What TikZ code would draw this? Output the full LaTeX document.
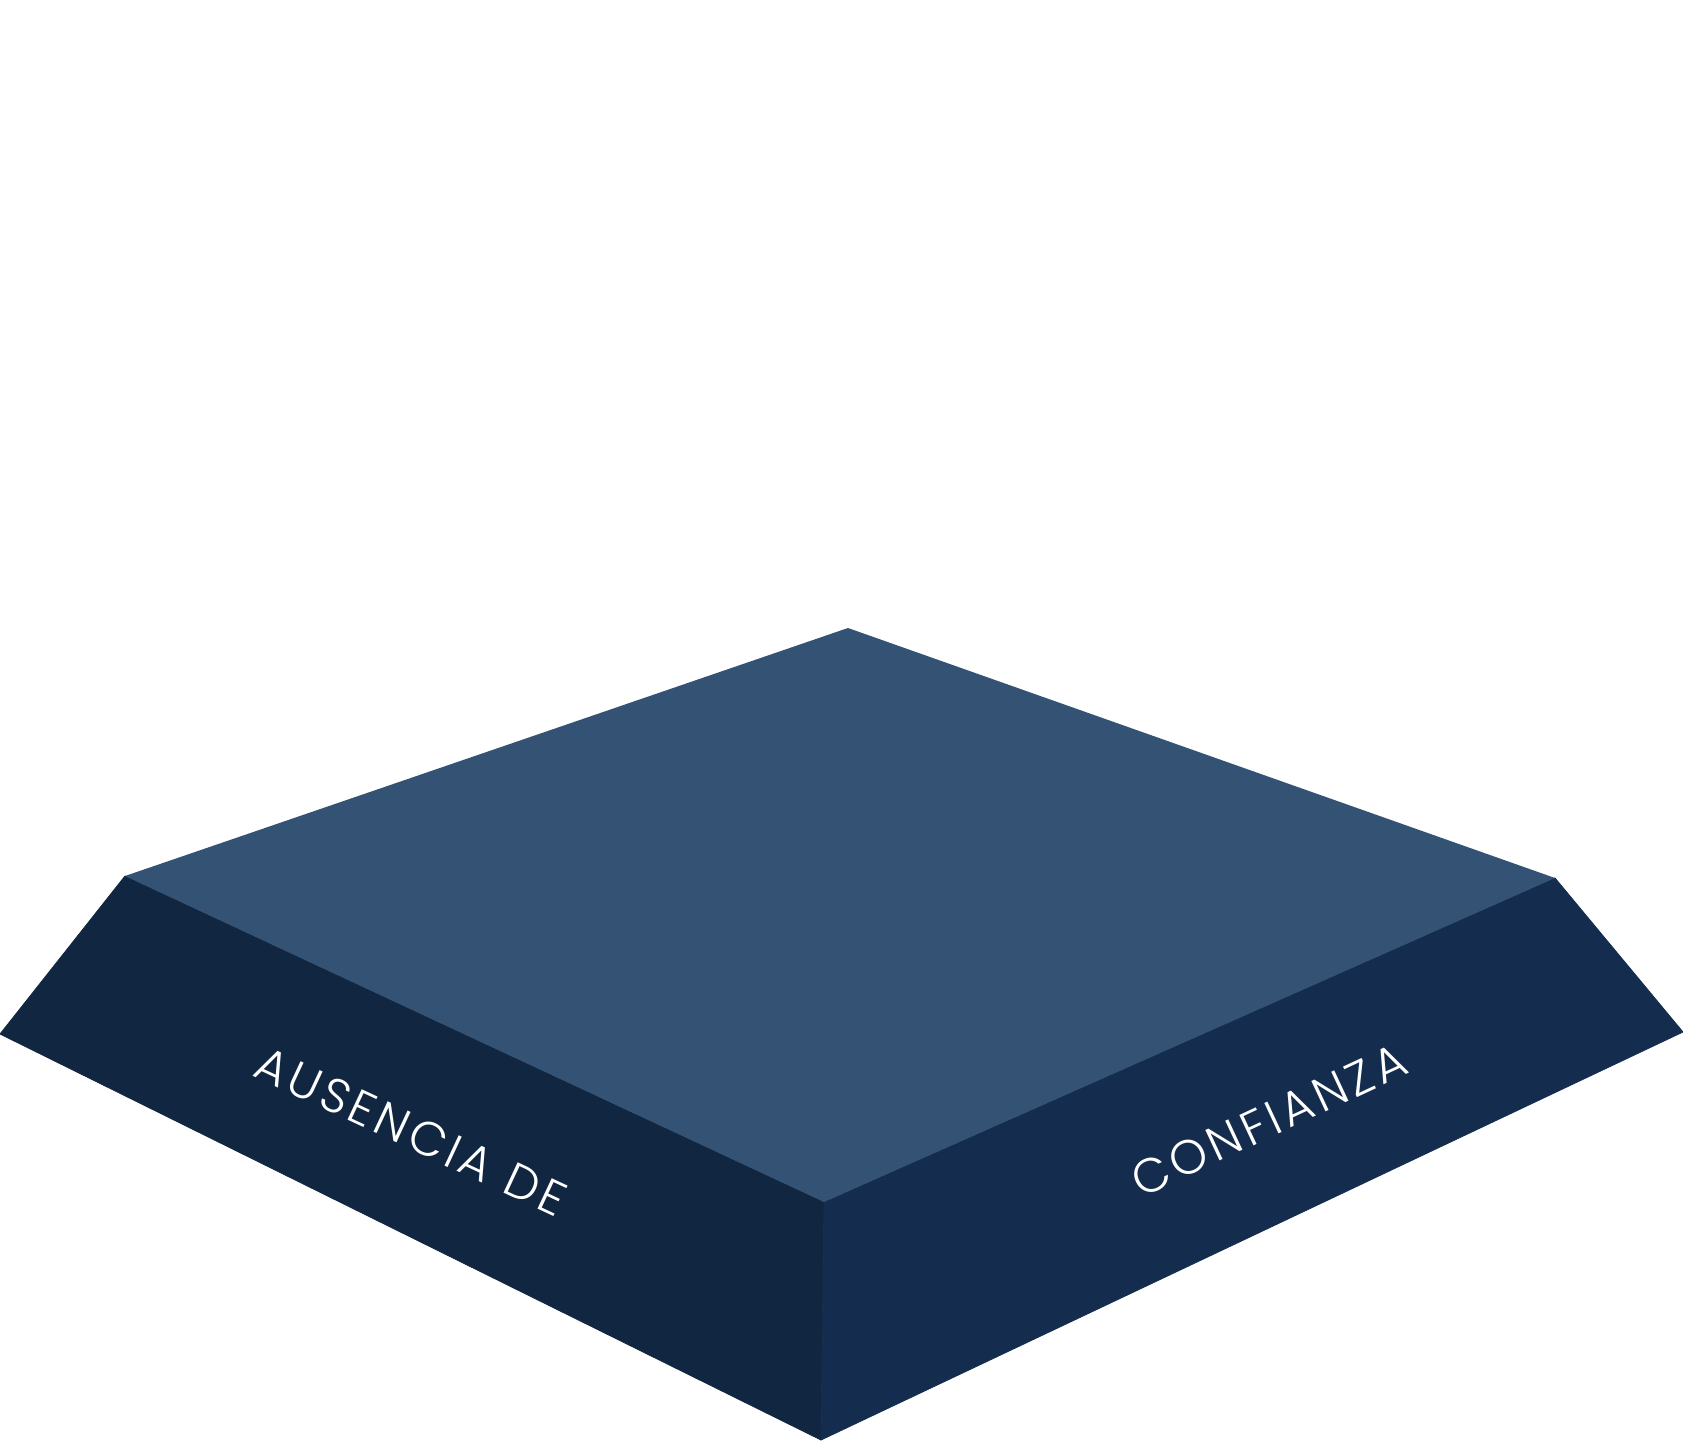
\documentclass[tikz,border=0pt]{standalone}
\usepackage{fontspec}
\newfontfamily\labfont[UprightFont=* Light, LetterSpace=9]{Poppins}
\definecolor{topc}{HTML}{345274}
\definecolor{leftc}{HTML}{112641}
\definecolor{rightc}{HTML}{142D4E}
\tikzset{lab/.style={text=white, font=\labfont\fontsize{48}{48}\selectfont, inner sep=0pt}}
\begin{document}
\begin{tikzpicture}[x=1pt,y=-1pt]
\useasboundingbox (0,0) rectangle (1683,1440);
\coordinate (apex) at (848,628);
\coordinate (lt) at (125,876);
\coordinate (rt) at (1555,878);
\coordinate (ft) at (824,1202);
\coordinate (lo) at (0,1034);
\coordinate (ro) at (1683,1032);
\coordinate (bot) at (821,1440);
\filldraw[leftc, line width=0.8pt, line join=round] (lo) -- (lt) -- (ft) -- (bot) -- cycle;
\filldraw[rightc, line width=0.8pt, line join=round] (ft) -- (rt) -- (ro) -- (bot) -- cycle;
\fill[topc] (apex) -- (rt) -- (ft) -- (lt) -- cycle;
\node[lab, rotate=-25] (l1) at (411,1131) {AUSENCIA DE};
\node[lab, rotate=25] (l2) at (1269,1120) {CONFIANZA};
\end{tikzpicture}
\end{document}
